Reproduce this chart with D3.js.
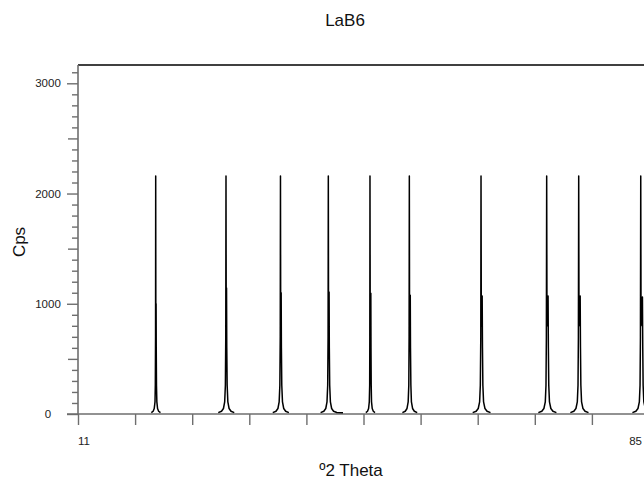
<!DOCTYPE html>
<html>
<head>
<meta charset="utf-8">
<script src="https://cdn.jsdelivr.net/npm/d3@7"></script>
<style>
  html, body { margin: 0; padding: 0; background: #fff; }
  svg { display: block; font-family: "Liberation Sans", Arial, sans-serif; }
</style>
</head>
<body>
<svg id="chart" width="644" height="482"></svg>
<script>
// ---- Data ----
const chartTitle = "LaB6";
const xTitle = "º2 Theta";
const yTitle = "Cps";
const xDomain = [11, 85];
const yDomain = [0, 3166];
const xTickValues = [11, 18.4, 25.8, 33.2, 40.6, 48, 55.4, 62.8, 70.2, 77.6, 85];
const xLabelValues = [11, 85];
const yLabelValues = [0, 1000, 2000, 3000];
const yMediumTicks = [500, 1500, 2500];

// Measured pattern segments around each reflection: [2θ, cps]
const peak1 = [[20.50,12],[20.74,25],[20.88,50],[20.98,110],[21.02,260],[21.05,700],[21.07,2160],[21.09,800],[21.12,1000],[21.14,600],[21.17,260],[21.22,110],[21.31,50],[21.45,25],[21.69,12]];
const peak2 = [[29.18,12],[29.60,25],[29.85,50],[30.01,110],[30.10,260],[30.15,700],[30.18,2160],[30.21,800],[30.25,1143],[30.28,600],[30.33,260],[30.42,110],[30.58,50],[30.83,25],[31.25,12]];
const peak3 = [[36.24,12],[36.66,25],[36.91,50],[37.07,110],[37.16,260],[37.21,700],[37.24,2160],[37.27,800],[37.33,1100],[37.36,600],[37.41,260],[37.50,110],[37.66,50],[37.91,25],[38.33,12]];
const peak4 = [[42.44,12],[42.86,25],[43.11,50],[43.27,110],[43.36,260],[43.41,700],[43.44,2160],[43.47,800],[43.54,1107],[43.57,600],[43.62,260],[43.71,110],[43.87,50],[44.12,25],[44.54,14],[45.34,12]];
const peak5 = [[48.30,12],[48.52,25],[48.66,50],[48.75,110],[48.80,260],[48.82,700],[48.84,2160],[48.87,800],[48.95,1095],[48.97,600],[49.00,260],[49.04,110],[49.13,50],[49.27,25],[49.49,12]];
const peak6 = [[53.04,12],[53.41,25],[53.64,50],[53.79,110],[53.87,260],[53.91,700],[53.94,2160],[53.97,800],[54.06,1077],[54.09,600],[54.14,260],[54.21,110],[54.36,50],[54.59,25],[54.96,12]];
const peak7 = [[62.15,12],[62.60,25],[62.87,50],[63.05,110],[63.14,260],[63.20,700],[63.23,2160],[63.27,800],[63.38,1070],[63.42,600],[63.47,260],[63.56,110],[63.74,50],[64.01,25],[64.46,12]];
const peak8 = [[70.66,12],[71.11,25],[71.38,50],[71.56,110],[71.65,260],[71.70,700],[71.74,2160],[71.78,800],[71.92,1070],[71.96,600],[72.01,260],[72.10,110],[72.28,50],[72.55,25],[73.00,12]];
const peak9 = [[74.81,12],[75.26,25],[75.53,50],[75.71,110],[75.80,260],[75.85,700],[75.89,2160],[75.93,800],[76.08,1070],[76.12,600],[76.17,260],[76.26,110],[76.44,50],[76.71,25],[77.16,12]];
const peak10 = [[82.85,12],[83.30,25],[83.57,50],[83.75,110],[83.84,260],[83.89,700],[83.93,2160],[83.97,800],[84.15,1061],[84.19,600],[84.24,260],[84.33,110],[84.51,50],[84.78,25],[85.23,12]];
const segments = [peak1, peak2, peak3, peak4, peak5, peak6, peak7, peak8, peak9, peak10];

// ---- Layout ----
const svg = d3.select("#chart");
const plot = { left: 78, right: 649, top: 65, bottom: 414 };
const axisColor = "#6e6e6e";

const x = d3.scaleLinear().domain(xDomain).range([plot.left, plot.right]);
const y = d3.scaleLinear().domain(yDomain).range([plot.bottom, plot.top]);

// Title
svg.append("text").attr("x", 345).attr("y", 26).attr("text-anchor", "middle")
  .attr("font-size", 17).attr("fill", "#111").text(chartTitle);

// Top border
svg.append("line").attr("x1", plot.left).attr("x2", 644).attr("y1", plot.top).attr("y2", plot.top)
  .attr("stroke", "#000").attr("stroke-width", 1.5);

// Y axis (minor ticks every 100)
const yMinor = d3.range(100, yDomain[1], 100).filter(v => v % 500 !== 0);
const yAxisMinor = d3.axisLeft(y).tickValues(yMinor).tickSize(6).tickFormat("");
const yAxisMed = d3.axisLeft(y).tickValues(yMediumTicks).tickSize(10).tickFormat("");
const yAxisMajor = d3.axisLeft(y).tickValues(yLabelValues).tickSize(11).tickFormat("");
[yAxisMinor, yAxisMed, yAxisMajor].forEach(ax => {
  const g = svg.append("g").attr("transform", `translate(${plot.left},0)`).call(ax);
  g.select(".domain").remove();
  g.selectAll(".tick line").attr("stroke", axisColor).attr("stroke-width", 1.4);
});
svg.append("line").attr("x1", plot.left).attr("x2", plot.left).attr("y1", plot.top).attr("y2", plot.bottom)
  .attr("stroke", axisColor).attr("stroke-width", 1.6);
svg.append("g").selectAll("text").data(yLabelValues).join("text")
  .attr("x", 48).attr("y", d => y(d) + 4).attr("text-anchor", "middle")
  .attr("font-size", 11.5).attr("fill", "#222").text(d => d);

// X axis
const xAxis = d3.axisBottom(x).tickValues(xTickValues).tickSize(11).tickFormat("");
const gx = svg.append("g").attr("transform", `translate(0,${plot.bottom})`).call(xAxis);
gx.select(".domain").remove();
gx.selectAll(".tick line").attr("stroke", axisColor).attr("stroke-width", 1.4);
svg.append("line").attr("x1", plot.left - 11).attr("x2", 644).attr("y1", plot.bottom).attr("y2", plot.bottom)
  .attr("stroke", axisColor).attr("stroke-width", 1.6);
svg.append("g").selectAll("text").data(xLabelValues).join("text")
  .attr("x", (d, i) => i === 0 ? x(d) : Math.min(x(d), 642))
  .attr("y", 445)
  .attr("text-anchor", (d, i) => i === 0 ? "start" : "end")
  .attr("font-size", 11.5).attr("fill", "#222").text(d => d);

// Axis titles
svg.append("text").attr("x", 351).attr("y", 476).attr("text-anchor", "middle")
  .attr("font-size", 17).attr("fill", "#111").text(xTitle);
svg.append("text").attr("transform", "translate(25,242) rotate(-90)").attr("text-anchor", "middle")
  .attr("font-size", 17).attr("fill", "#111").text(yTitle);

// Pattern
const line = d3.line().x(d => x(d[0])).y(d => y(d[1]));
svg.append("g").selectAll("path").data(segments).join("path")
  .attr("d", line).attr("fill", "none").attr("stroke", "#000")
  .attr("stroke-width", 1.5).attr("stroke-linejoin", "round");
</script>
</body>
</html>
